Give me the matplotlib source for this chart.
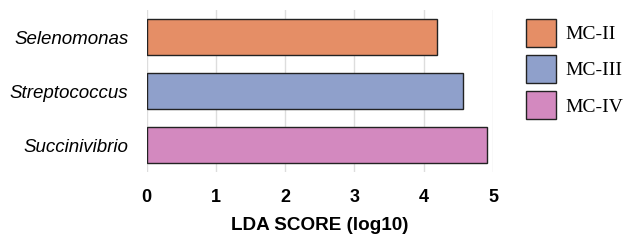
import matplotlib
matplotlib.use("Agg")
import matplotlib.pyplot as plt
from matplotlib.patches import Patch

taxa = ["Selenomonas", "Streptococcus", "Succinivibrio"]
scores = [4.19, 4.57, 4.92]
groups = ["MC-II", "MC-III", "MC-IV"]
colors = ["#E58E66", "#8FA0CB", "#D389BF"]
xticks = [0, 1, 2, 3, 4, 5]

fig = plt.figure(figsize=(6.3, 2.48), dpi=100)
W, H = 630, 248
ax = fig.add_axes([146.5 / W, 1 - 172 / H, (493 - 146.5) / W, (172 - 10) / H])

ypos = list(range(len(taxa)))
ax.barh(ypos, scores, height=0.667, color=colors, edgecolor="#222222",
        linewidth=1.0, zorder=3)
ax.set_ylim(len(taxa) - 0.5, -0.5)
ax.set_xlim(0, 5)
ax.set_xticks(xticks)
ax.set_xticklabels([str(t) for t in xticks], fontfamily="Liberation Sans",
                   fontweight="bold", fontsize=13)
ax.set_yticks(ypos)
ax.set_yticklabels(taxa, fontfamily="Liberation Sans", fontstyle="italic",
                   fontsize=13.5)
ax.tick_params(axis="both", length=0)
ax.tick_params(axis="x", pad=12.5)
ax.tick_params(axis="y", pad=13)
ax.grid(axis="x", color="#dddddd", linewidth=1.0, zorder=0)
for s in ax.spines.values():
    s.set_visible(False)
ax.set_xlabel("LDA SCORE (log10)", fontfamily="Liberation Sans",
              fontweight="bold", fontsize=13.6, labelpad=7.5)

handles = [Patch(facecolor=c, edgecolor="#222222", linewidth=1.0) for c in colors]
fig.legend(handles, groups, loc="upper left",
           bbox_to_anchor=(526 / W, 1 - 19 / H), frameon=False,
           borderpad=0, borderaxespad=0, handlelength=1.55, handleheight=1.84,
           labelspacing=0.42, handletextpad=0.46,
           prop={"family": "Liberation Serif", "size": 14})

fig.savefig("out.png", dpi=100)
